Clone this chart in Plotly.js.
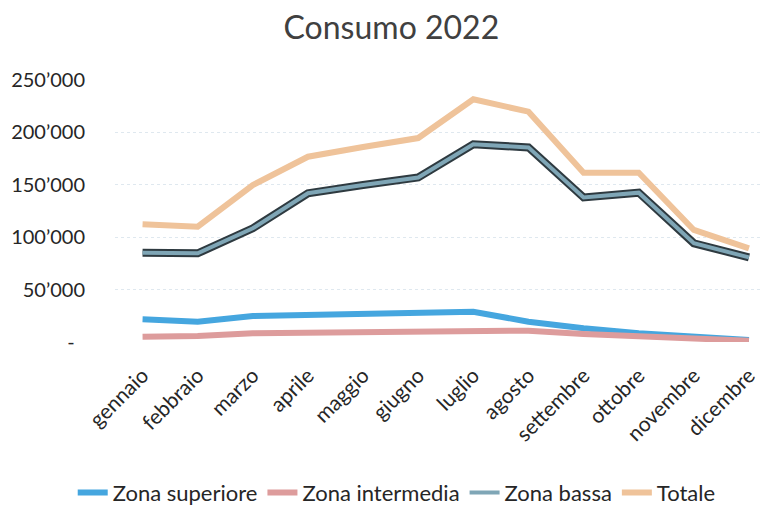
<!DOCTYPE html>
<html>
<head>
<meta charset="utf-8">
<script src="https://cdn.plot.ly/plotly-3.0.1.min.js"></script>
<style>html,body{margin:0;padding:0;background:#fff;}#chart{width:760px;height:509px;}</style>
</head>
<body>
<div id="chart"></div>
<script>
var months = ["gennaio","febbraio","marzo","aprile","maggio","giugno","luglio","agosto","settembre","ottobre","novembre","dicembre"];
var zonaSuperiore = [21600,19400,24800,25800,26700,27400,28900,19400,13100,8300,4500,1900];
var zonaIntermedia = [5100,5700,8300,8900,8900,9800,11400,10800,7600,5700,2500,1200];
var zonaBassa = [85200,84600,108500,141900,149800,157000,188600,185700,138000,142500,94200,80800];
var totale = [112300,110000,149800,176800,186000,194600,231600,219800,161500,161500,106900,89400];
var yTickVals = [0,50000,100000,150000,200000,250000];
var yTickText = ["-  ","50’000","100’000","150’000","200’000","250’000"];

var FONT = "Lato, 'Open Sans', sans-serif";
var traces = [
  {x: months, y: zonaSuperiore, name: "Zona superiore", mode: "lines", line: {color: "#45a6df", width: 6}},
  {x: months, y: zonaIntermedia, name: "Zona intermedia", mode: "lines", line: {color: "#dd9c9c", width: 6}},
  {x: months, y: zonaBassa, name: "Zona bassa", mode: "lines", line: {color: "#2e3a40", width: 8}, showlegend: false, hoverinfo: "skip"},
  {x: months, y: zonaBassa, name: "Zona bassa", mode: "lines", line: {color: "#7fa6b6", width: 4}},
  {x: months, y: totale, name: "Totale", mode: "lines", line: {color: "#efc39a", width: 6}}
];

var layout = {
  width: 760, height: 509,
  paper_bgcolor: "#fff", plot_bgcolor: "#fff",
  margin: {l: 115, r: 0, t: 80, b: 167, autoexpand: false},
  title: {text: "Consumo 2022", x: 0.515, xanchor: "center", y: 0.945, yanchor: "middle",
          font: {family: FONT, size: 32, color: "#404040"}},
  font: {family: FONT, color: "#262626"},
  showlegend: true,
  legend: {orientation: "h", xref: "container", yref: "container", x: 0.522, xanchor: "center", y: 0.032, yanchor: "middle",
           font: {family: FONT, size: 22, color: "#262626"}, itemwidth: 30, tracegroupgap: 0,
           traceorder: "normal"},
  xaxis: {type: "category", range: [-0.5, 11.2], showgrid: false, zeroline: false, showline: false,
          tickangle: -45, tickfont: {family: FONT, size: 21, color: "#262626"},
          ticks: "outside", ticklen: 12, tickcolor: "rgba(0,0,0,0)"},
  yaxis: {range: [0, 250000], tickvals: yTickVals, ticktext: yTickText,
          showgrid: true, gridcolor: "#dfe8ef", griddash: "dot", gridwidth: 1,
          zeroline: false, showline: false,
          ticks: "outside", ticklen: 25, tickcolor: "rgba(0,0,0,0)",
          tickfont: {family: FONT, size: 20, color: "#262626"}}
};
Plotly.newPlot("chart", traces, layout, {displayModeBar: false, staticPlot: true});
</script>
</body>
</html>
